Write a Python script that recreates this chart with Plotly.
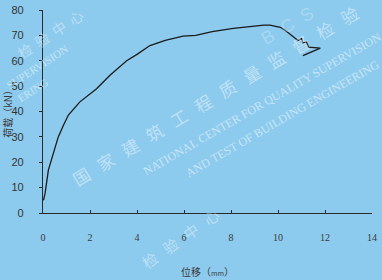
import plotly.graph_objects as go

displacement = [0.02, 0.09, 0.23, 0.44, 0.65, 0.87, 1.08, 1.57, 2.28, 2.85, 3.56, 4.0, 4.55, 5.2,
                5.96, 6.5, 7.2, 8.1, 8.8, 9.4, 9.66, 10.1, 10.3, 10.7, 10.85, 11.0, 11.06, 11.2,
                11.3, 11.8, 11.06]
load = [5, 7.8, 17, 23.6, 30, 34.6, 38.6, 43.8, 49, 54.3, 60, 62.5, 66, 68,
        69.7, 70, 71.5, 72.8, 73.5, 74, 74, 73.2, 72, 69.3, 68, 68.8, 67, 67.5,
        65.4, 65, 62]

x_ticks = [0, 2, 4, 6, 8, 10, 12, 14]
y_ticks = [0, 10, 20, 30, 40, 50, 60, 70, 80]

fig = go.Figure()
fig.add_trace(go.Scatter(x=displacement, y=load, mode="lines",
                         line=dict(color="#1a1a1a", width=1.3), showlegend=False))

# faint watermark text (pixel-centred positions converted to paper coords)
W, H, L, R, T, B = 382, 280, 43, 10, 10, 67
def px(xp, yp):
    return (xp - L) / (W - L - R), (H - B - yp) / (H - T - B)

wm = [
    ("国   家   建   筑   工   程   质   量   监   督   检   验", 215, 95, -31, 17, "Noto Sans CJK SC", 0.45),
    ("NATIONAL CENTER FOR QUALITY SUPERVISION", 262, 104, -30, 12, "Liberation Serif", 0.5),
    ("AND TEST OF BUILDING ENGINEERING", 282, 119, -30, 12, "Liberation Serif", 0.5),
    ("检  验  中  心", 50, 34, -33, 14, "Noto Sans CJK SC", 0.4),
    ("检   验   中   心", 180, 238, -35, 15, "Noto Sans CJK SC", 0.4),
    ("SUPERVISION", 37, 67, -33, 11, "Liberation Serif", 0.5),
    ("ERING", 33, 90, -33, 11, "Liberation Serif", 0.5),
    ("B  C  S", 287, 26, -30, 18, "Liberation Sans", 0.25),
]
for t, xp, yp, ang, sz, fam, a in wm:
    xx, yy = px(xp, yp)
    fig.add_annotation(text=t, xref="paper", yref="paper", x=xx, y=yy, showarrow=False,
                       xanchor="center", yanchor="middle",
                       textangle=ang, font=dict(color=f"rgba(255,255,255,{a})", size=sz,
                                                family=fam))

fig.update_layout(
    width=W, height=H,
    margin=dict(l=L, r=R, t=T, b=B, autoexpand=False),
    paper_bgcolor="#8dcbee",
    plot_bgcolor="#8dcbee",
    xaxis=dict(range=[0, 14], tickvals=x_ticks, showgrid=False, zeroline=False,
               showline=True, linecolor="#2a2a2a", linewidth=1.2, automargin=False,
               ticks="inside", ticklen=3, tickcolor="#2a2a2a", ticklabelstandoff=15,
               ticklabeloverflow="allow",
               tickfont=dict(family="Liberation Serif", size=10, color="#3a3a3a"),
               title=dict(text="位移（<span style='font-size:7px'>mm</span>）", standoff=26,
                          font=dict(family="Noto Sans CJK SC", size=10, color="#3a3a3a"))),
    yaxis=dict(range=[0, 80], tickvals=y_ticks, showgrid=False, zeroline=False,
               showline=True, linecolor="#2a2a2a", linewidth=1.2, automargin=False,
               ticks="outside", ticklen=3, tickcolor="#2a2a2a", ticklabelstandoff=13,
               ticklabeloverflow="allow",
               tickfont=dict(family="Liberation Sans", size=11, color="#333333"),
               title=dict(text="荷载（kN）", standoff=4,
                          font=dict(family="Noto Sans CJK SC", size=10, color="#3a3a3a"))),
)

fig.write_html("out.html", config={"displayModeBar": False},
               post_script="document.body.style.margin='0';document.body.style.background='#8dcbee';")
